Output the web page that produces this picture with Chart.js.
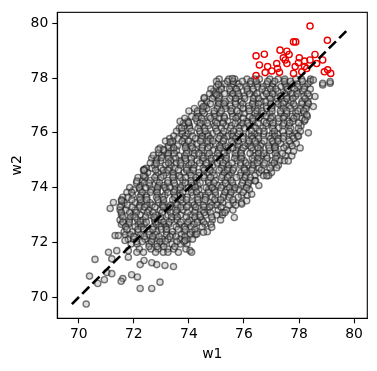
<!DOCTYPE html>
<html>
<head>
<meta charset="utf-8">
<script src="https://cdn.jsdelivr.net/npm/chart.js@4.4.1/dist/chart.umd.min.js"></script>
<style>
  html, body { margin: 0; padding: 0; background: #fff; }
  canvas { display: block; }
</style>
</head>
<body>
<canvas id="myChart" width="377" height="371"></canvas>
<script>
// tick labels
const xTicks = [70, 72, 74, 76, 78, 80];
const yTicks = [70, 72, 74, 76, 78, 80];

// dashed reference line w2 = w1
const lineEnds = [69.75, 79.8];

// dense part of the cloud, read strip by strip: [w2, [w1 values]]
const grayRows = [
  [77.79, [75.3, 75.61, 75.8, 76.22, 76.48, 76.83, 77.05, 77.49, 77.77, 77.94, 78.32]],
  [77.96, [75.1, 75.45, 75.67, 76.11, 76.39, 76.56, 76.94, 77.24, 77.48, 77.88, 78.09, 78.42]],
  [77.68, [75.0, 75.17, 75.55, 75.85, 76.09, 76.49, 76.7, 77.03, 77.34, 77.53, 77.95, 78.21]],
  [77.88, [75.0, 75.4, 75.61, 75.94, 76.25, 76.44, 76.86, 77.12, 77.47, 77.69, 78.13, 78.41]],
  [77.52, [74.9, 75.09, 75.51, 75.77, 76.12, 76.34, 76.78, 77.06, 77.23, 77.61, 77.91, 78.15]],
  [77.34, [74.9, 75.12, 75.56, 75.84, 76.01, 76.39, 76.69, 76.93, 77.33, 77.54, 77.87, 78.18, 78.37]],
  [77.6, [74.8, 75.18, 75.48, 75.72, 76.12, 76.33, 76.66, 76.97, 77.16, 77.58, 77.84, 78.19, 78.41]],
  [77.43, [74.75, 74.96, 75.29, 75.6, 75.79, 76.21, 76.47, 76.82, 77.04, 77.48, 77.76, 77.93, 78.31]],
  [77.14, [74.65, 75.07, 75.33, 75.68, 75.9, 76.34, 76.62, 76.79, 77.17, 77.47, 77.71, 78.11, 78.32]],
  [76.98, [74.6, 75.04, 75.32, 75.49, 75.87, 76.17, 76.41, 76.81, 77.02, 77.35, 77.66, 77.85, 78.27]],
  [77.25, [74.55, 74.85, 75.09, 75.49, 75.7, 76.03, 76.34, 76.53, 76.95, 77.21, 77.56, 77.78, 78.22]],
  [77.06, [74.45, 74.78, 75.09, 75.28, 75.7, 75.96, 76.31, 76.53, 76.97, 77.25, 77.42, 77.8, 78.1, 78.34]],
  [76.71, [74.3, 74.56, 74.91, 75.13, 75.57, 75.85, 76.02, 76.4, 76.7, 76.94, 77.34, 77.55, 77.88, 78.19]],
  [76.89, [74.2, 74.48, 74.65, 75.03, 75.33, 75.57, 75.97, 76.18, 76.51, 76.82, 77.01, 77.43, 77.69, 78.04, 78.26]],
  [76.6, [74.1, 74.34, 74.74, 74.95, 75.28, 75.59, 75.78, 76.2, 76.46, 76.81, 77.03, 77.47, 77.75, 77.92, 78.3]],
  [76.8, [74.0, 74.31, 74.5, 74.92, 75.18, 75.53, 75.75, 76.19, 76.47, 76.64, 77.02, 77.32, 77.56, 77.96, 78.17]],
  [76.42, [73.95, 74.3, 74.52, 74.96, 75.24, 75.41, 75.79, 76.09, 76.33, 76.73, 76.94, 77.27, 77.58, 77.77, 78.19]],
  [76.26, [73.85, 74.02, 74.4, 74.7, 74.94, 75.34, 75.55, 75.88, 76.19, 76.38, 76.8, 77.06, 77.41, 77.63, 78.07]],
  [76.53, [73.85, 74.25, 74.46, 74.79, 75.1, 75.29, 75.71, 75.97, 76.32, 76.54, 76.98, 77.26, 77.43, 77.81, 78.11]],
  [76.35, [73.8, 73.99, 74.41, 74.67, 75.02, 75.24, 75.68, 75.96, 76.13, 76.51, 76.81, 77.05, 77.45, 77.66, 77.99]],
  [75.97, [73.75, 73.97, 74.41, 74.69, 74.86, 75.24, 75.54, 75.78, 76.18, 76.39, 76.72, 77.03, 77.22, 77.64, 77.9]],
  [76.17, [73.65, 74.03, 74.33, 74.57, 74.97, 75.18, 75.51, 75.82, 76.01, 76.43, 76.69, 77.04, 77.26, 77.7, 77.98]],
  [76.06, [73.55, 73.76, 74.09, 74.4, 74.59, 75.01, 75.27, 75.62, 75.84, 76.28, 76.56, 76.73, 77.11, 77.41, 77.65, 78.05]],
  [75.88, [73.45, 73.87, 74.13, 74.48, 74.7, 75.14, 75.42, 75.59, 75.97, 76.27, 76.51, 76.91, 77.12, 77.45, 77.76, 77.95]],
  [75.61, [73.4, 73.84, 74.12, 74.29, 74.67, 74.97, 75.21, 75.61, 75.82, 76.15, 76.46, 76.65, 77.07, 77.33, 77.68, 77.9]],
  [75.79, [73.3, 73.6, 73.84, 74.24, 74.45, 74.78, 75.09, 75.28, 75.7, 75.96, 76.31, 76.53, 76.97, 77.25, 77.42, 77.8]],
  [75.52, [73.25, 73.58, 73.89, 74.08, 74.5, 74.76, 75.11, 75.33, 75.77, 76.05, 76.22, 76.6, 76.9, 77.14, 77.54, 77.75]],
  [75.7, [73.15, 73.41, 73.76, 73.98, 74.42, 74.7, 74.87, 75.25, 75.55, 75.79, 76.19, 76.4, 76.73, 77.04, 77.23, 77.65]],
  [75.36, [73.1, 73.38, 73.55, 73.93, 74.23, 74.47, 74.87, 75.08, 75.41, 75.72, 75.91, 76.33, 76.59, 76.94, 77.16, 77.6]],
  [75.16, [73.0, 73.24, 73.64, 73.85, 74.18, 74.49, 74.68, 75.1, 75.36, 75.71, 75.93, 76.37, 76.65, 76.82, 77.2, 77.5, 77.74]],
  [75.45, [72.95, 73.26, 73.45, 73.87, 74.13, 74.48, 74.7, 75.14, 75.42, 75.59, 75.97, 76.27, 76.51, 76.91, 77.12, 77.45]],
  [75.25, [72.9, 73.25, 73.47, 73.91, 74.19, 74.36, 74.74, 75.04, 75.28, 75.68, 75.89, 76.22, 76.53, 76.72, 77.14, 77.4]],
  [74.98, [72.8, 72.97, 73.35, 73.65, 73.89, 74.29, 74.5, 74.83, 75.14, 75.33, 75.75, 76.01, 76.36, 76.58, 77.02, 77.3, 77.47]],
  [74.82, [72.75, 73.15, 73.36, 73.69, 74.0, 74.19, 74.61, 74.87, 75.22, 75.44, 75.88, 76.16, 76.33, 76.71, 77.01, 77.25]],
  [75.07, [72.65, 72.84, 73.26, 73.52, 73.87, 74.09, 74.53, 74.81, 74.98, 75.36, 75.66, 75.9, 76.3, 76.51, 76.84, 77.15]],
  [74.9, [72.6, 72.82, 73.26, 73.54, 73.71, 74.09, 74.39, 74.63, 75.03, 75.24, 75.57, 75.88, 76.07, 76.49, 76.75, 77.1]],
  [74.55, [72.5, 72.88, 73.18, 73.42, 73.82, 74.03, 74.36, 74.67, 74.86, 75.28, 75.54, 75.89, 76.11, 76.55, 76.83, 77.0]],
  [74.71, [72.45, 72.66, 72.99, 73.3, 73.49, 73.91, 74.17, 74.52, 74.74, 75.18, 75.46, 75.63, 76.01, 76.31, 76.55, 76.95]],
  [74.44, [72.4, 72.82, 73.08, 73.43, 73.65, 74.09, 74.37, 74.54, 74.92, 75.22, 75.46, 75.86, 76.07, 76.4, 76.71, 76.9]],
  [74.64, [72.35, 72.79, 73.07, 73.24, 73.62, 73.92, 74.16, 74.56, 74.77, 75.1, 75.41, 75.6, 76.02, 76.28, 76.63]],
  [74.26, [72.3, 72.6, 72.84, 73.24, 73.45, 73.78, 74.09, 74.28, 74.7, 74.96, 75.31, 75.53, 75.97, 76.25, 76.42]],
  [74.08, [72.25, 72.58, 72.89, 73.08, 73.5, 73.76, 74.11, 74.33, 74.77, 75.05, 75.22, 75.6, 75.9, 76.14, 76.54]],
  [74.37, [72.15, 72.41, 72.76, 72.98, 73.42, 73.7, 73.87, 74.25, 74.55, 74.79, 75.19, 75.4, 75.73, 76.04, 76.23]],
  [74.17, [72.1, 72.38, 72.55, 72.93, 73.23, 73.47, 73.87, 74.08, 74.41, 74.72, 74.91, 75.33, 75.59, 75.94, 76.16]],
  [73.92, [72.0, 72.24, 72.64, 72.85, 73.18, 73.49, 73.68, 74.1, 74.36, 74.71, 74.93, 75.37, 75.65, 75.82, 76.2]],
  [73.72, [71.95, 72.26, 72.45, 72.87, 73.13, 73.48, 73.7, 74.14, 74.42, 74.59, 74.97, 75.27, 75.51, 75.91, 76.12]],
  [74.0, [71.85, 72.2, 72.42, 72.86, 73.14, 73.31, 73.69, 73.99, 74.23, 74.63, 74.84, 75.17, 75.48, 75.67, 76.09]],
  [73.83, [71.75, 71.92, 72.3, 72.6, 72.84, 73.24, 73.45, 73.78, 74.09, 74.28, 74.7, 74.96, 75.31, 75.53, 75.97]],
  [73.45, [71.65, 72.05, 72.26, 72.59, 72.9, 73.09, 73.51, 73.77, 74.12, 74.34, 74.78, 75.06, 75.23, 75.61, 75.91]],
  [73.65, [71.6, 71.79, 72.21, 72.47, 72.82, 73.04, 73.48, 73.76, 73.93, 74.31, 74.61, 74.85, 75.25, 75.46, 75.79]],
  [73.36, [71.55, 71.77, 72.21, 72.49, 72.66, 73.04, 73.34, 73.58, 73.98, 74.19, 74.52, 74.83, 75.02, 75.44, 75.7]],
  [73.56, [71.55, 71.93, 72.23, 72.47, 72.87, 73.08, 73.41, 73.72, 73.91, 74.33, 74.59, 74.94, 75.16, 75.6]],
  [73.18, [71.5, 71.71, 72.04, 72.35, 72.54, 72.96, 73.22, 73.57, 73.79, 74.23, 74.51, 74.68, 75.06, 75.36, 75.6]],
  [73.0, [71.55, 71.97, 72.23, 72.58, 72.8, 73.24, 73.52, 73.69, 74.07, 74.37, 74.61, 75.01, 75.22]],
  [73.29, [71.5, 71.94, 72.22, 72.39, 72.77, 73.07, 73.31, 73.71, 73.92, 74.25, 74.56, 74.75, 75.17]],
  [73.09, [71.55, 71.85, 72.09, 72.49, 72.7, 73.03, 73.34, 73.53, 73.95, 74.21, 74.56, 74.78, 75.22]],
  [72.82, [71.5, 71.83, 72.14, 72.33, 72.75, 73.01, 73.36, 73.58, 74.02, 74.3, 74.47, 74.85, 75.15]],
  [72.66, [71.55, 71.81, 72.16, 72.38, 72.82, 73.1, 73.27, 73.65, 73.95, 74.19, 74.59, 74.8]],
  [72.93, [71.6, 71.88, 72.05, 72.43, 72.73, 72.97, 73.37, 73.58, 73.91, 74.22, 74.41, 74.83]],
  [72.74, [71.6, 71.84, 72.24, 72.45, 72.78, 73.09, 73.28, 73.7, 73.96, 74.31, 74.53]],
  [72.39, [71.65, 71.96, 72.15, 72.57, 72.83, 73.18, 73.4, 73.84, 74.12, 74.29, 74.67]],
  [72.57, [71.7, 72.05, 72.27, 72.71, 72.99, 73.16, 73.54, 73.84, 74.08, 74.48]],
  [72.28, [71.7, 71.87, 72.25, 72.55, 72.79, 73.19, 73.4, 73.73, 74.04, 74.23]],
  [72.48, [71.75, 72.15, 72.36, 72.69, 73.0, 73.19, 73.61, 73.87, 74.22]],
  [72.12, [71.8, 71.99, 72.41, 72.67, 73.02, 73.24, 73.68, 73.96, 74.13]],
  [71.94, [71.9, 72.12, 72.56, 72.84, 73.01, 73.39, 73.69, 73.93]],
  [72.21, [72.0, 72.38, 72.68, 72.92, 73.32, 73.53, 73.86]],
  [72.03, [72.1, 72.31, 72.64, 72.95, 73.14, 73.56, 73.82]],
  [71.76, [72.2, 72.62, 72.88, 73.23, 73.45, 73.89]],
  [71.64, [72.35, 72.79, 73.07, 73.24, 73.62]],
  [71.85, [72.55, 72.85, 73.09, 73.49]]
];

// scattered points around the edge of the cloud: [w1, w2]
const grayEdge = [
  [70.27, 69.75], [70.39, 70.77], [70.69, 70.50], [70.93, 70.64], [71.02, 70.90],
  [71.20, 70.86], [70.59, 71.38], [71.20, 71.40], [71.08, 71.64], [71.38, 71.70],
  [71.80, 71.46], [71.80, 71.70], [71.60, 70.68], [71.54, 70.58], [71.92, 70.82],
  [72.13, 70.74], [72.23, 70.32], [72.65, 70.32], [72.95, 70.55], [73.13, 71.16],
  [73.44, 71.12], [72.83, 71.19], [72.65, 71.26], [72.23, 71.19], [72.11, 71.64],
  [72.37, 71.34], [71.68, 72.07], [71.32, 72.25], [71.44, 72.25], [71.26, 73.46],
  [71.14, 73.24], [71.56, 73.52],
  [74.04, 71.70], [74.10, 71.64], [74.53, 72.37], [74.83, 72.55], [75.65, 72.91],
  [75.31, 73.09], [75.92, 73.40], [76.10, 73.52], [76.28, 73.76], [74.29, 72.31],
  [73.86, 72.07],
  [78.34, 76.00], [78.04, 75.45], [77.80, 75.33], [78.52, 76.96], [78.58, 77.33],
  [78.86, 77.75], [79.13, 77.81], [77.98, 75.88], [77.61, 74.97], [77.19, 74.73],
  [76.83, 74.43], [76.40, 74.24], [78.22, 76.48], [78.28, 76.66], [78.52, 77.93],
  [78.86, 77.81], [79.13, 77.87],
  [75.58, 77.98], [75.07, 77.77], [75.01, 77.39], [74.56, 77.29], [74.53, 76.96],
  [73.68, 76.42], [73.98, 76.38], [73.74, 76.18], [73.32, 75.66], [73.07, 75.39],
  [72.89, 75.39], [72.71, 75.18], [73.01, 75.09], [72.38, 74.67], [72.11, 74.24],
  [72.35, 74.43], [72.37, 74.63]
];

// points above w2 = 78, drawn red: [w1, w2]
const redPts = [
  [78.40, 79.90], [77.80, 79.32], [77.88, 79.32], [79.03, 79.38], [76.44, 78.81],
  [76.74, 78.87], [77.31, 79.02], [77.56, 78.98], [77.64, 78.86], [78.01, 78.74],
  [78.58, 78.86], [77.43, 78.74], [77.19, 78.53], [76.56, 78.48], [76.86, 78.42],
  [77.22, 78.35], [77.56, 78.53], [77.86, 78.42], [78.20, 78.42], [78.40, 78.66],
  [78.86, 78.66], [78.64, 78.53], [76.44, 78.09], [76.77, 78.20], [77.01, 78.26],
  [77.29, 78.21], [77.80, 78.17], [78.10, 78.23], [78.28, 78.35], [78.92, 78.23],
  [79.04, 78.30], [79.15, 78.17], [77.98, 78.56], [78.20, 78.62], [77.50, 78.66]
];

const grayData = [];
grayRows.forEach(function (row) {
  row[1].forEach(function (w1) { grayData.push({ x: w1, y: row[0] }); });
});
grayEdge.forEach(function (p) { grayData.push({ x: p[0], y: p[1] }); });
const redData = redPts.map(function (p) { return { x: p[0], y: p[1] }; });
const lineData = lineEnds.map(function (v) { return { x: v, y: v }; });

const font = { family: 'DejaVu Sans', size: 13.9 };

const frame = {
  id: 'frame',
  afterDatasetsDraw(c) {
    const a = c.chartArea;
    const ctx = c.ctx;
    ctx.save();
    ctx.strokeStyle = '#000';
    ctx.lineWidth = 1.1;
    ctx.strokeRect(a.left, a.top, a.right - a.left, a.bottom - a.top);
    ctx.restore();
  }
};

const chart = document.getElementById("myChart");
let scatter = new Chart(chart, {
  type: 'scatter',
  data: {
    datasets: [{
      label: 'line',
      data: lineData,
      showLine: true,
      borderColor: '#000',
      borderWidth: 2.6,
      borderDash: [10, 4.5],
      pointRadius: 0,
      order: 0
    },
    {
      label: 'high',
      data: redData,
      pointRadius: 3.1,
      borderWidth: 1.4,
      borderColor: 'rgb(235,0,0)',
      backgroundColor: 'rgba(255,255,255,0)',
      order: 1
    },
    {
      label: 'rest',
      data: grayData,
      pointRadius: 3.1,
      borderWidth: 1.4,
      borderColor: 'rgba(25,25,25,0.58)',
      backgroundColor: 'rgba(170,170,170,0.4)',
      order: 2
    }]
  },
  options: {
    responsive: false,
    animation: false,
    devicePixelRatio: 1,
    layout: { padding: { top: 10, right: 9.7, left: 0, bottom: 0 } },
    plugins: { legend: { display: false }, tooltip: { enabled: false } },
    scales: {
      x: {
        min: 69.22, max: 80.48,
        afterBuildTicks: function (s) { s.ticks = xTicks.map(function (v) { return { value: v }; }); },
        afterFit: function (s) { s.height = 52.7; },
        grid: { drawOnChartArea: false, tickLength: 5, color: '#000', tickWidth: 1.1 },
        border: { color: '#000', width: 1.1 },
        ticks: { color: '#000', font: font, padding: 3, maxRotation: 0 },
        title: { display: true, text: 'w1', color: '#000', font: font, padding: { top: 0, bottom: 8 } }
      },
      y: {
        min: 69.23, max: 80.40,
        afterBuildTicks: function (s) { s.ticks = yTicks.map(function (v) { return { value: v }; }); },
        afterFit: function (s) { s.width = 57.3; },
        grid: { drawOnChartArea: false, tickLength: 5, color: '#000', tickWidth: 1.1 },
        border: { color: '#000', width: 1.1 },
        ticks: { color: '#000', font: font, padding: 4 },
        title: { display: true, text: 'w2', color: '#000', font: font, padding: { top: 9, bottom: 0 } }
      }
    }
  },
  plugins: [frame]
});
</script>
</body>
</html>
